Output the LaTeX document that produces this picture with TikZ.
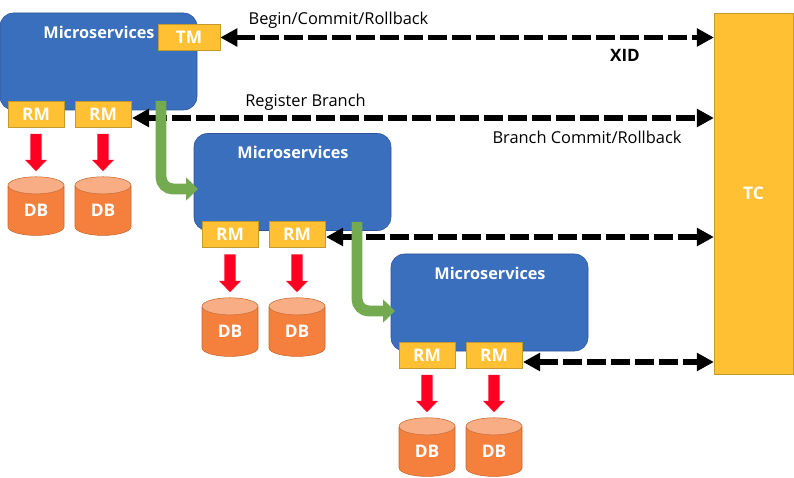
\documentclass[tikz,border=0pt]{standalone}
\usepackage{xcolor}
\usepackage{fontspec}
\setmainfont{Open Sans}
\usetikzlibrary{arrows.meta, shapes.geometric}
\definecolor{serviceblue}{HTML}{3A6FBE}
\definecolor{serviceedge}{HTML}{2F5597}
\definecolor{gold}{HTML}{FFC033}
\definecolor{goldedge}{HTML}{C49A2C}
\definecolor{dborange}{HTML}{F5803E}
\definecolor{dbtop}{HTML}{F8AD84}
\definecolor{dbedge}{HTML}{C5682F}
\definecolor{flowgreen}{HTML}{74AA50}
\definecolor{storered}{HTML}{FF0022}

\begin{document}
\begin{tikzpicture}[x=0.75pt, y=-0.75pt]
            \tikzstyle{Service} = [draw=serviceedge, fill=serviceblue, rounded corners=10pt, minimum width=147.75pt, minimum height=72.75pt, inner sep=0pt]
            \tikzstyle{Service Label} = [text=white, font=\bfseries\fontsize{12.2}{14}\selectfont, inner sep=0pt, anchor=base]
            \tikzstyle{Agent} = [draw=goldedge, fill=gold, text=white, font=\bfseries\fontsize{13}{15}\selectfont, minimum width=42pt, minimum height=19.5pt, inner sep=0pt]
            \tikzstyle{DB} = [cylinder, shape border rotate=90, aspect=0.7, cylinder uses custom fill, cylinder body fill=dborange, cylinder end fill=dbtop, draw=dbedge, text=white, font=\bfseries\fontsize{13}{15}\selectfont, minimum width=42pt, minimum height=44pt, inner sep=0pt]
            \tikzstyle{Call} = [line width=4pt, dash pattern=on 14pt off 4pt, {Triangle[length=12.75pt, width=13pt]}-{Triangle[length=12.75pt, width=13pt]}]
            \tikzstyle{Flow} = [line width=8.2pt, color=flowgreen, rounded corners=9pt, -{Triangle[length=9pt, width=17pt]}]
            \tikzstyle{Store} = [line width=8.5pt, color=storered, shorten <=5pt, shorten >=4pt, -{Triangle[length=8.5pt, width=16pt]}]
            \tikzstyle{Caption} = [font=\fontsize{12.3}{14}\selectfont, inner sep=0pt, anchor=base]

            \useasboundingbox (0, 0) rectangle (794, 478);

            \node[draw=goldedge, fill=gold, minimum width=59pt, minimum height=270.75pt, inner sep=0pt, text=white, font=\bfseries\fontsize{13}{15}\selectfont] (tc) at (753.5, 193.5) {TC};

            % first group
            \node[Service] (serviceA) at (98.5, 61.5) {};
            \node[Service Label] (labelA) at (99, 38.5) {Microservices};
            \node[Agent, minimum width=46.5pt] (tm) at (189, 37.5) {TM};
            \node[Agent] (rmA) at (36, 114) {RM};
            \node[Agent] (rmB) at (103, 114) {RM};
            \node[DB] (dbA) at (36, 210.5) {DB};
            \node[DB] (dbB) at (103, 210.5) {DB};

            % second group
            \node[Service] (serviceB) at (292.5, 182) {};
            \node[Service Label] (labelB) at (293, 159) {Microservices};
            \node[Agent] (rmC) at (230, 234.5) {RM};
            \node[Agent] (rmD) at (297, 234.5) {RM};
            \node[DB] (dbC) at (230, 331.5) {DB};
            \node[DB] (dbD) at (297, 331.5) {DB};

            % third group
            \node[Service] (serviceC) at (489.5, 302.5) {};
            \node[Service Label] (labelC) at (490, 279.5) {Microservices};
            \node[Agent] (rmE) at (427, 355) {RM};
            \node[Agent] (rmF) at (494, 355) {RM};
            \node[DB] (dbE) at (427, 451.5) {DB};
            \node[DB] (dbF) at (494, 451.5) {DB};

            \coordinate (registerB) at (132, 118);
            \coordinate (registerD) at (326, 237);
            \coordinate (registerF) at (523, 362);
            \coordinate (startB) at (161, 101);
            \coordinate (endB) at (198, 189);
            \coordinate (startC) at (357, 222);
            \coordinate (endC) at (395, 311);

            \draw[Call] (tm.east) -- (tm.east -| tc.west);
            \draw[Call] (registerB) -- (registerB -| tc.west);
            \draw[Call] (registerD) -- (registerD -| tc.west);
            \draw[Call] (registerF) -- (registerF -| tc.west);

            \draw[Flow] (startB) |- (endB);
            \draw[Flow] (startC) |- (endC);

            \draw[Store] (rmA) -- (dbA);
            \draw[Store] (rmB) -- (dbB);
            \draw[Store] (rmC) -- (dbC);
            \draw[Store] (rmD) -- (dbD);
            \draw[Store] (rmE) -- (dbE);
            \draw[Store] (rmF) -- (dbF);

            \node[Caption] (begin) at (338.5, 25) {Begin/Commit/Rollback};
            \node[Caption, font=\bfseries\fontsize{12.8}{15}\selectfont] (xid) at (625, 61.5) {XID};
            \node[Caption] (register) at (305.5, 107) {Register Branch};
            \node[Caption] (commit) at (587, 144) {Branch Commit/Rollback};
        \end{tikzpicture}
\end{document}
